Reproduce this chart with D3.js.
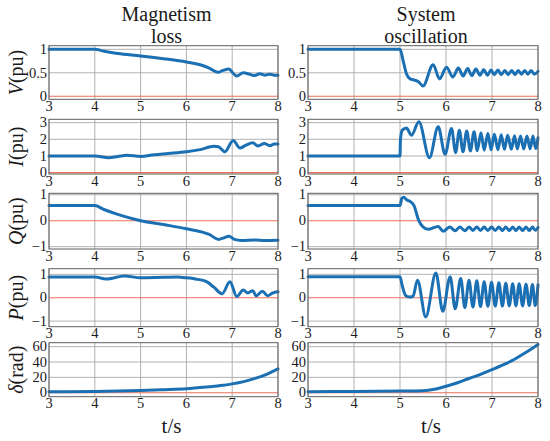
<!DOCTYPE html>
<html><head><meta charset="utf-8">
<script src="https://cdn.jsdelivr.net/npm/d3@7"></script>
<style>
html,body{margin:0;padding:0;background:#fff;}
svg{display:block;}
</style></head>
<body>
<svg id="chart" width="550" height="441"></svg>
<script>
// ---------- data ----------
const columnTitles = [["Magnetism","loss"],["System","oscillation"]];
const xTicks = [3,4,5,6,7,8];
const rowSymbols = ["V","I","Q","P","δ"];
const rowUnits = ["(pu)","(pu)","(pu)","(pu)","(rad)"];
const yTicksV = [0,0.5,1];      const yLabelsV = ["0","0.5","1"];
const yTicksI = [0,1,2,3];      const yLabelsI = ["0","1","2","3"];
const yTicksQ = [-1,0,1];       const yLabelsQ = ["−1","0","1"];
const yTicksP = [-1,0,1];       const yLabelsP = ["−1","0","1"];
const yTicksD = [0,20,40,60];   const yLabelsD = ["0","20","40","60"];

// left column: magnetism loss
const tV_L = [3,4,4.2,4.5,5,5.5,6,6.3,6.5,6.69,6.8,6.93,7.02,7.1,7.24,7.38,7.49,7.6,7.71,7.82,7.92,8];
const V_L  = [1,1,0.96,0.91,0.86,0.8,0.73,0.67,0.6,0.51,0.55,0.58,0.49,0.43,0.5,0.47,0.44,0.48,0.45,0.47,0.45,0.45];
const tI_L = [3,4,4.1,4.3,4.5,4.7,5,5.3,5.6,6,6.3,6.6,6.7,6.84,7.02,7.17,7.3,7.45,7.56,7.7,7.82,7.92,8];
const I_L  = [1,1,0.97,0.9,0.97,1.05,0.97,1.08,1.15,1.25,1.38,1.58,1.55,1.25,1.93,1.48,1.65,1.8,1.6,1.75,1.62,1.72,1.72];
const tQ_L = [3,4,4.2,4.5,5,5.5,6,6.5,6.7,6.82,6.93,7.05,7.2,7.5,7.7,8];
const Q_L  = [0.58,0.58,0.43,0.24,0,-0.15,-0.31,-0.53,-0.72,-0.66,-0.6,-0.72,-0.76,-0.74,-0.76,-0.75];
const tP_L = [3,4,4.25,4.65,5,5.5,5.8,6,6.2,6.45,6.6,6.78,6.95,7.1,7.24,7.34,7.45,7.52,7.66,7.77,7.88,8];
const P_L  = [0.88,0.88,0.8,0.93,0.85,0.87,0.88,0.85,0.8,0.68,0.45,0.17,0.68,0.05,0.33,0.2,0.3,0.08,0.28,0.08,0.2,0.25];
const tD_L = [3,4,5,5.5,6,6.5,6.75,7,7.25,7.5,7.75,8];
const D_L  = [1.3,1.7,3.0,4.0,5.2,7.8,9.3,11.5,14.5,18.7,24,31];

// right column: system oscillation
const tV_R = [3,5,5.07,5.14,5.22,5.33,5.4,5.5,5.72,5.86,6.01,6.15,6.27,6.37,6.47,6.56,6.65,6.74,6.82,6.9,6.98,7.05,7.13,7.2,7.28,7.35,7.43,7.5,7.57,7.64,7.71,7.78,7.85,7.92,8];
const V_R  = [1,1,0.75,0.48,0.37,0.34,0.31,0.22,0.67,0.37,0.62,0.41,0.6,0.43,0.59,0.44,0.58,0.45,0.57,0.45,0.56,0.46,0.56,0.46,0.55,0.46,0.55,0.46,0.55,0.47,0.55,0.47,0.55,0.47,0.53];
const tI_R = [3,5,5.01,5.05,5.14,5.25,5.41,5.64,5.83,5.98,6.12,6.21,6.29,6.37,6.45,6.53,6.61,6.68,6.76,6.83,6.91,6.98,7.05,7.13,7.2,7.27,7.34,7.42,7.49,7.55,7.62,7.69,7.76,7.83,7.89,7.95,8];
const I_R  = [1,1,2.0,2.55,2.68,2.25,3.05,0.9,2.75,1.1,2.65,1.2,2.55,1.25,2.5,1.3,2.45,1.32,2.4,1.35,2.35,1.37,2.3,1.38,2.28,1.4,2.25,1.4,2.22,1.42,2.2,1.42,2.2,1.43,2.2,1.45,2.1];
const tQ_R = [3,5,5.04,5.08,5.15,5.22,5.3,5.4,5.5,5.61,5.83,5.94,6.08,6.2,6.3,6.41,6.5,6.585,6.67,6.75,6.83,6.91,6.99,7.07,7.15,7.225,7.3,7.375,7.45,7.52,7.59,7.665,7.74,7.81,7.88,7.94,8];
const Q_R  = [0.58,0.58,0.86,0.9,0.8,0.74,0.6,0.04,-0.24,-0.33,-0.22,-0.41,-0.24,-0.39,-0.24,-0.39,-0.24,-0.38,-0.24,-0.38,-0.24,-0.38,-0.24,-0.38,-0.24,-0.38,-0.24,-0.38,-0.24,-0.38,-0.24,-0.38,-0.24,-0.38,-0.24,-0.37,-0.26];
const tP_R = [3,5,5.05,5.12,5.2,5.28,5.38,5.56,5.78,5.93,6.09,6.2,6.32,6.41,6.5,6.585,6.67,6.75,6.83,6.91,6.99,7.07,7.15,7.225,7.3,7.375,7.45,7.52,7.59,7.665,7.74,7.81,7.88,7.94,8];
const P_R  = [0.9,0.9,0.5,0.1,0.03,0.05,0.75,-0.82,1.06,-0.58,0.9,-0.47,0.82,-0.42,0.75,-0.4,0.72,-0.38,0.68,-0.37,0.66,-0.36,0.64,-0.36,0.62,-0.35,0.6,-0.35,0.6,-0.35,0.58,-0.34,0.56,-0.34,0.55];
const tD_R = [3,4,5,5.5,5.75,6,6.25,6.5,6.75,7,7.25,7.5,7.75,8];
const D_R  = [1.3,1.6,2.1,2.6,4.5,8.5,13,18.5,24,30,36.5,44,53,63];

// ---------- layout ----------
const FONT = "'Liberation Serif','Times New Roman',serif";
const svg = d3.select("#chart");
const cols = [{x0:49,x1:278},{x0:308,x1:538}];
const rows = [
  {top:45.7,bottom:99.3, dom:[-0.065,1.077], ticks:yTicksV, labels:yLabelsV},
  {top:119.3,bottom:174, dom:[-0.08,3.2],    ticks:yTicksI, labels:yLabelsI},
  {top:193.3,bottom:249, dom:[-1.09,1.054],  ticks:yTicksQ, labels:yLabelsQ},
  {top:268.7,bottom:326.7,dom:[-1.24,1.24],  ticks:yTicksP, labels:yLabelsP},
  {top:342.7,bottom:396.7,dom:[-5.2,65.2],   ticks:yTicksD, labels:yLabelsD}
];
const series = [
  [[tV_L,V_L],[tI_L,I_L],[tQ_L,Q_L],[tP_L,P_L],[tD_L,D_L]],
  [[tV_R,V_R],[tI_R,I_R],[tQ_R,Q_R],[tP_R,P_R],[tD_R,D_R]]
];
const blue = "#1b6fb3", red = "#ec6f5a", grid = "#a8a8a8", frame = "#5e5e5e", ink = "#1a1a1a";

function txt(sel){ return sel.attr("font-family",FONT).attr("fill",ink); }

cols.forEach((c,ci)=>{
  const x = d3.scaleLinear().domain([3,8]).range([c.x0,c.x1]);
  const cx = (c.x0+c.x1)/2 + 3;
  txt(svg.append("text")).attr("x",cx).attr("y",21).attr("text-anchor","middle").attr("font-size",20).text(columnTitles[ci][0]);
  txt(svg.append("text")).attr("x",cx).attr("y",43).attr("text-anchor","middle").attr("font-size",20).text(columnTitles[ci][1]);
  rows.forEach((r,ri)=>{
    const y = d3.scaleLinear().domain(r.dom).range([r.bottom,r.top]);
    const g = svg.append("g");
    g.selectAll(".vg").data(xTicks).join("line")
      .attr("x1",d=>x(d)).attr("x2",d=>x(d)).attr("y1",r.top).attr("y2",r.bottom)
      .attr("stroke",grid).attr("stroke-width",0.9);
    g.selectAll(".hg").data(r.ticks.filter(v=>v!==0)).join("line")
      .attr("x1",c.x0).attr("x2",c.x1).attr("y1",d=>y(d)).attr("y2",d=>y(d))
      .attr("stroke",grid).attr("stroke-width",0.9);
    g.append("line").attr("x1",c.x0).attr("x2",c.x1).attr("y1",y(0)).attr("y2",y(0))
      .attr("stroke",red).attr("stroke-width",1.1);
    const [ts,vs] = series[ci][ri];
    const line = d3.line().x(d=>x(d[0])).y(d=>y(d[1])).curve(d3.curveMonotoneX);
    g.append("path").datum(ts.map((t,i)=>[t,vs[i]])).attr("d",line)
      .attr("fill","none").attr("stroke",blue).attr("stroke-width",3).attr("stroke-linejoin","round").attr("stroke-linecap","round");
    g.append("rect").attr("x",c.x0).attr("y",r.top).attr("width",c.x1-c.x0).attr("height",r.bottom-r.top)
      .attr("fill","none").attr("stroke",frame).attr("stroke-width",1);
    txt(g.selectAll(".yl").data(r.ticks).join("text"))
      .attr("x",c.x0-2).attr("y",d=>y(d)).attr("dy","0.33em").attr("text-anchor","end")
      .attr("font-size",14.5).text((d,i)=>r.labels[i]);
    txt(g.selectAll(".xl").data(xTicks).join("text"))
      .attr("x",d=>x(d)).attr("y",r.bottom+11.5).attr("text-anchor","middle")
      .attr("font-size",14.5).text(d=>d);
    if(ci===0){
      const ly = (r.top+r.bottom)/2;
      const yl = txt(g.append("text")).attr("transform",`translate(23,${ly}) rotate(-90)`)
        .attr("text-anchor","middle").attr("font-size",20);
      yl.append("tspan").attr("font-style","italic").text(rowSymbols[ri]);
      yl.append("tspan").text(rowUnits[ri]);
    }
  });
  txt(svg.append("text")).attr("x",(c.x0+c.x1)/2+8).attr("y",433).attr("text-anchor","middle")
    .attr("font-size",21).text("t/s");
});
</script>
</body></html>
